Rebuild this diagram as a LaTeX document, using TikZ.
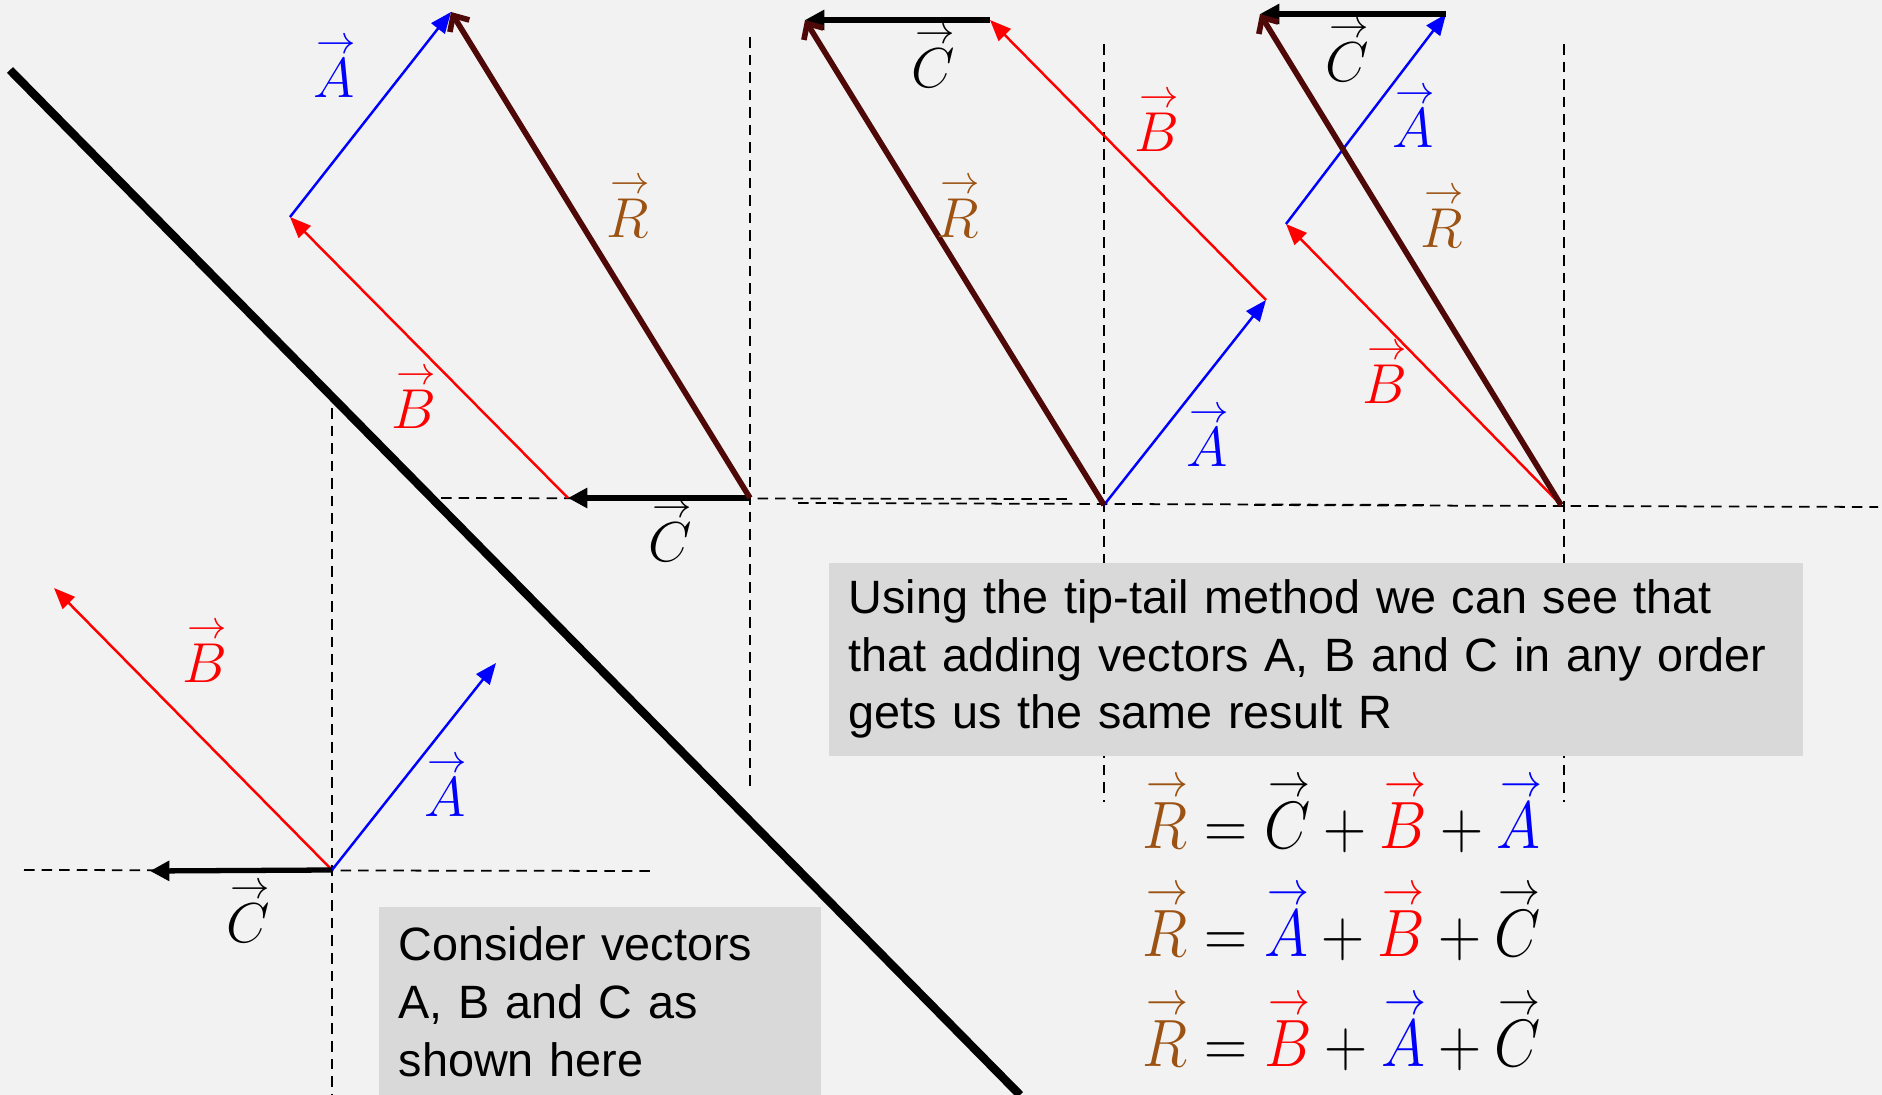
\RequirePackage{fix-cm}
\documentclass[tikz,border=0pt]{standalone}
\usepackage{graphicx}
\usepackage{fontspec}
\usepackage{xcolor}
\usepackage{tikz}
\usetikzlibrary{arrows.meta}
\newfontfamily\boxfont{Liberation Sans}
\definecolor{bg}{HTML}{F2F2F2}
\definecolor{boxgray}{HTML}{D9D9D9}
\definecolor{rdark}{RGB}{78,8,8}
\definecolor{rbrown}{RGB}{155,82,18}
\newcommand{\vv}[1]{\mbox{\ooalign{$#1$\cr\hidewidth\kern1.2pt\raisebox{0.78em}{$\scriptstyle\rightarrow$}\hidewidth\cr}}}
\newcommand{\tallmath}[1]{\scalebox{1}[1.12]{#1}}

\begin{document}
\begin{tikzpicture}[x=0.01cm,y=-0.01cm,
  lbl/.style={font=\fontsize{16}{18}\selectfont,inner sep=1pt},
  eq/.style={anchor=west,inner sep=0pt,font=\fontsize{17}{20}\selectfont},
  guide/.style={draw=black,line width=0.5pt,dash pattern=on 3pt off 2pt},
  va/.style={blue,line width=0.7pt,-{Triangle[length=6pt,width=4.8pt]}},
  vb/.style={red,line width=0.7pt,-{Triangle[length=6pt,width=4.8pt]}},
  vc/.style={black,line width=1.5pt,-{Triangle[length=5.5pt,width=5.5pt]}},
  vr/.style={rdark,line width=1.6pt,-{Straight Barb[length=3.5pt,width=6.5pt]}},
  note/.style={fill=boxgray,anchor=north west,align=left,inner xsep=0.2cm,inner ysep=0.17cm,
    font=\boxfont\fontsize{13.3}{16.4}\selectfont}]
  \fill[bg] (0,0) rectangle (1882,1095);
  \useasboundingbox (0,0) rectangle (1882,1095);

  \draw[guide] (750,37)--(750,792);
  \draw[guide] (1104,44)--(1104,802);
  \draw[guide] (1564,44)--(1564,802);
  \draw[guide] (332,408)--(332,1095);
  \draw[guide] (441,498)--(1071,499);
  \draw[guide] (798,503)--(1425,505);
  \draw[guide] (1254,505)--(1878,507);
  \draw[guide] (24,870)--(654,871);

  \draw[line width=2.4pt] (10,70)--(1020,1095);

  \coordinate (o0) at (332,870);
  \coordinate (a0) at (496,663);
  \coordinate (b0) at (54,588);
  \coordinate (c0) at (150,871);
  \draw[vb] (o0)--(b0);
  \draw[va] (o0)--(a0);
  \draw[vc] (o0)--(c0);

  \coordinate (o1) at (750,498);
  \coordinate (c1) at (568,498);
  \coordinate (b1) at (290,217);
  \coordinate (a1) at (451,12);
  \draw[vc] (o1)--(c1);
  \draw[vb] (c1)--(b1);
  \draw[va] (b1)--(a1);
  \draw[vr] (o1)--(a1);

  \coordinate (o2) at (1104,505);
  \coordinate (a2) at (1266,300);
  \coordinate (b2) at (990,20);
  \coordinate (c2) at (805,20);
  \draw[va] (o2)--(a2);
  \draw[vb] (a2)--(b2);
  \draw[vc] (b2)--(c2);
  \draw[vr] (o2)--(c2);

  \coordinate (o3) at (1561,505);
  \coordinate (b3) at (1286,224);
  \coordinate (a3) at (1446,14);
  \coordinate (c3) at (1260,14);
  \draw[vb] (o3)--(b3);
  \draw[va] (b3)--(a3);
  \draw[vc] (a3)--(c3);
  \draw[vr] (o3)--(c3);

  \node[lbl,red] (lb0) at (205,663) {$\vv{B}$};
  \node[lbl,blue] (la0) at (445,797) {$\vv{A}$};
  \node[lbl] (lc0) at (248,923) {$\vv{C}$};
  \node[lbl,blue] (la1) at (334,78) {$\vv{A}$};
  \node[lbl,rbrown] (lr1) at (628,218) {$\vv{R}$};
  \node[lbl,red] (lb1) at (414,409) {$\vv{B}$};
  \node[lbl] (lc1) at (670,542) {$\vv{C}$};
  \node[lbl] (lc2) at (933,68) {$\vv{C}$};
  \node[lbl,red] (lb2) at (1157,132) {$\vv{B}$};
  \node[lbl,rbrown] (lr2) at (958,218) {$\vv{R}$};
  \node[lbl,blue] (la2) at (1207,447) {$\vv{A}$};
  \node[lbl] (lc3) at (1347,62) {$\vv{C}$};
  \node[lbl,blue] (la3) at (1413,128) {$\vv{A}$};
  \node[lbl,rbrown] (lr3) at (1442,228) {$\vv{R}$};
  \node[lbl,red] (lb3) at (1385,384) {$\vv{B}$};

  \node[note,text width=4.02cm,minimum height=1.9cm] (given) at (378,906) {Consider vectors\\A, B and C as\\shown here};
  \node[note,text width=9.34cm] (result) at (828,562) {Using the tip-tail method we can see that\\that adding vectors A, B and C in any order\\gets us the same result R};

  \node[eq] (eq1) at (1142,828) {\tallmath{$\textcolor{rbrown}{\vv{R}}=\vv{C}+\textcolor{red}{\vv{B}}+\textcolor{blue}{\vv{A}}$}};
  \node[eq] (eq2) at (1142,936) {\tallmath{$\textcolor{rbrown}{\vv{R}}=\textcolor{blue}{\vv{A}}+\textcolor{red}{\vv{B}}+\vv{C}$}};
  \node[eq] (eq3) at (1142,1046) {\tallmath{$\textcolor{rbrown}{\vv{R}}=\textcolor{red}{\vv{B}}+\textcolor{blue}{\vv{A}}+\vv{C}$}};
\end{tikzpicture}
\end{document}
